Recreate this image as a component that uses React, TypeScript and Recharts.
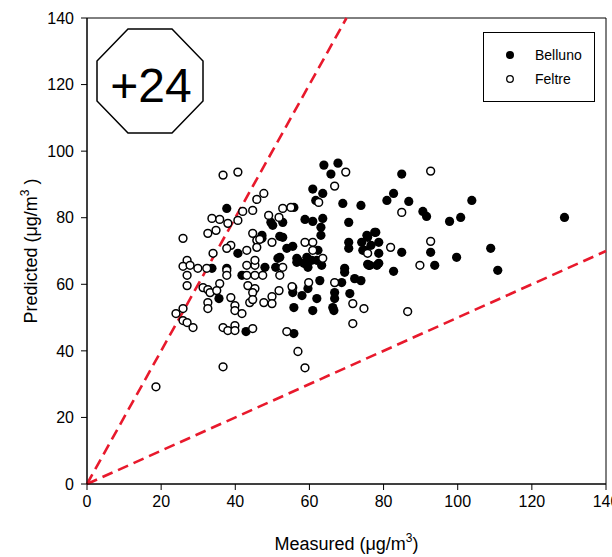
import React from "react";
import {
  ScatterChart,
  Scatter,
  XAxis,
  YAxis,
  ReferenceLine,
  ReferenceArea,
  Label,
} from "recharts";

// ---- data (µg/m3) ----
const belluno: [number, number][] = [
  [63.9, 95.8], [67.7, 96.4], [65.8, 93.1], [60.9, 88.6], [63.6, 87.3], [61.7, 85.2], [69, 84.3], [73.9, 83.7],
  [58.8, 79.5], [60.9, 78.9], [63.6, 79.8], [70.6, 78.6], [63.1, 77.1], [63.1, 74.7], [50.1, 77.7], [52.8, 78.6],
  [52, 74.4], [52.8, 74.1], [47.2, 74.7], [55.5, 71.4], [53.9, 70.8], [52, 68.1], [70.6, 72.6], [70.6, 70.8],
  [74.1, 72.6], [75.7, 74.1], [77.9, 75.6], [74.9, 70.2], [56.9, 67.2], [59.3, 68.1], [60.6, 67.2], [48, 65.1],
  [50.9, 65.1], [69.5, 64.8], [76, 65.7], [55.8, 83.1], [62.3, 70.2], [51.5, 67.8], [56.6, 67.8], [62, 67.2],
  [75.5, 74.7], [74.4, 70.2], [56.6, 66.6], [59.6, 65.1], [63.3, 65.7], [69.5, 63.6], [72.2, 61.7], [73.9, 61.1],
  [75.7, 66], [62.8, 61.1], [68.7, 60.5], [66.8, 57.5], [66.8, 55.7], [66.3, 53], [66.6, 52.1], [70.9, 57.2],
  [55.5, 57.5], [58, 56.6], [59.6, 58.7], [62, 55.7], [55.8, 53], [60.9, 52.1], [55.8, 45.2], [78.2, 65.7],
  [58.5, 66.3], [37.7, 82.8], [33.7, 64.8], [37.7, 64.8], [40.7, 69.3], [41.8, 62.7], [35.6, 55.7], [42.9, 45.8],
  [84.9, 93.1], [82.7, 87.3], [80.9, 85.2], [86.8, 84.9], [90.6, 81.9], [91.6, 80.4], [103.8, 85.2], [97.8, 78.9],
  [100.8, 80.1], [128.8, 80.1], [77.6, 75.6], [78.7, 72.6], [76.6, 71.7], [78.7, 69.3], [78.7, 66.3], [76.3, 65.7],
  [84.9, 69.6], [82.7, 63.9], [92.7, 69.6], [93.8, 65.7], [99.7, 68.1], [108.9, 70.8], [110.8, 64.2], [49.6, 78.6],
  [47.2, 73.8],
];

const feltre: [number, number][] = [
  [36.7, 92.8], [40.7, 93.7], [25.9, 73.8], [33.7, 79.8], [35.8, 79.5], [38, 78.3], [40.7, 79.2], [42, 81.9],
  [44.7, 82.2], [45.8, 85.5], [32.6, 75.3], [34.8, 76.2], [38.8, 71.7], [37.7, 70.8], [34, 69.3], [43.1, 70.2],
  [44.7, 75.3], [45.8, 73.2], [27, 67.2], [25.9, 65.4], [27.8, 65.7], [29.9, 64.8], [32.3, 64.8], [27, 62.7],
  [27, 59.6], [31.3, 59], [32.6, 58.4], [35.8, 60.2], [37.7, 64.2], [37.7, 62.7], [43.1, 65.7], [45.3, 65.7],
  [43.1, 62.7], [45.3, 62.7], [43.4, 59.6], [45.3, 58.7], [43.9, 54.5], [33.2, 57.5], [35, 58.1], [32.6, 54.5],
  [32.6, 52.7], [24, 51.2], [25.9, 52.7], [25.9, 49.1], [27, 48.5], [28.6, 47], [38.8, 56], [39.9, 53.6],
  [39.9, 52.1], [41.8, 51.2], [36.7, 47], [38, 46.1], [39.9, 47.6], [39.9, 46.1], [44.7, 46.7], [36.7, 35.2],
  [18.6, 29.2], [69.8, 93.7], [66.8, 89.5], [47.7, 87.3], [62.5, 84.6], [52.8, 82.8], [55, 83.1], [51.8, 80.1],
  [49.9, 72.6], [58.8, 72.6], [60.9, 72.6], [60.9, 70.2], [46.6, 73.5], [45.8, 71.1], [45.3, 67.2], [52.8, 65.1],
  [63.6, 67.8], [75.7, 69.3], [47.4, 62.7], [52, 62.7], [51.8, 58.1], [49.9, 56.3], [49.9, 54.2], [47.7, 54.5],
  [44.7, 57.5], [44.7, 55.4], [55.5, 59], [59.8, 60.5], [66.8, 60.5], [71.7, 54.2], [74.7, 52.7], [71.7, 48.2],
  [53.9, 45.8], [56.9, 39.8], [58.8, 34.9], [92.7, 94], [84.9, 81.6], [92.7, 72.9], [81.9, 71.1], [89.8, 65.7],
  [86.5, 51.8], [49, 80.7], [55.3, 59.3],
];

const ticks = [0, 20, 40, 60, 80, 100, 120, 140];
const upperLine = [{ x: 0, y: 0 }, { x: 70, y: 140 }];
const lowerLine = [{ x: 0, y: 0 }, { x: 140, y: 70 }];
const seriesNames = ["Belluno", "Feltre"];
const badgeText = "+24";

const bellunoData = belluno.map(([x, y]) => ({ x, y }));
const feltreData = feltre.map(([x, y]) => ({ x, y }));

const NARROW = "'Liberation Sans Narrow', 'Arial Narrow', 'Liberation Sans', Arial, sans-serif";
const SANS = "'Liberation Sans', Arial, sans-serif";
const RED = "#e8192c";

const FilledDot = (p: any) => <circle cx={p.cx} cy={p.cy} r={4.6} fill="#000" />;
const OpenDot = (p: any) => (
  <circle cx={p.cx} cy={p.cy} r={3.9} fill="#fff" stroke="#000" strokeWidth={1.5} />
);

const XTitle = (props: any) => {
  const vb = props.viewBox || {};
  const cx = vb.x + vb.width / 2;
  const y = vb.y + 66;
  return (
    <text x={cx} y={y} textAnchor="middle" fontFamily={NARROW} fontSize={18} fill="#000">
      Measured (μg/m<tspan dy={-8} fontSize={12}>3</tspan><tspan dy={8}>)</tspan>
    </text>
  );
};

const YTitle = (props: any) => {
  const vb = props.viewBox || {};
  const cy = vb.y + vb.height / 2;
  const x = 37;
  return (
    <text
      x={x}
      y={cy}
      textAnchor="middle"
      transform={`rotate(-90, ${x}, ${cy})`}
      fontFamily={NARROW}
      fontSize={18}
      fill="#000"
    >
      Predicted (μg/m<tspan dy={-8} fontSize={12}>3</tspan><tspan dy={8}> )</tspan>
    </text>
  );
};

export default function App() {
  return (
    <div style={{ position: "absolute", left: 0, top: 0, width: 612, height: 557, background: "#fff" }}>
      <ScatterChart
        width={612}
        height={557}
        margin={{ top: 18, right: 6, bottom: 0, left: 0 }}
      >
        <XAxis
          type="number"
          dataKey="x"
          domain={[0, 140]}
          ticks={ticks}
          interval={0}
          allowDataOverflow
          height={73}
          tickSize={6}
          tickMargin={6}
          stroke="#000"
          tick={{ fill: "#000", fontSize: 16, fontFamily: NARROW }}
        >
          <Label content={<XTitle />} />
        </XAxis>
        <YAxis
          type="number"
          dataKey="y"
          domain={[0, 140]}
          ticks={ticks}
          interval={0}
          allowDataOverflow
          width={87}
          tickSize={6}
          tickMargin={7}
          stroke="#000"
          tick={{ fill: "#000", fontSize: 16, fontFamily: NARROW }}
        >
          <Label content={<YTitle />} />
        </YAxis>
        <ReferenceArea x1={0} x2={140} y1={0} y2={140} fill="none" stroke="#000" strokeWidth={1} />
        <Scatter
          name={seriesNames[0]}
          data={bellunoData}
          shape={FilledDot}
          isAnimationActive={false}
        />
        <Scatter
          name={seriesNames[1]}
          data={feltreData}
          shape={OpenDot}
          isAnimationActive={false}
        />
        <ReferenceLine
          segment={upperLine}
          stroke={RED}
          strokeWidth={2.6}
          strokeDasharray="11 6"
        />
        <ReferenceLine
          segment={lowerLine}
          stroke={RED}
          strokeWidth={2.6}
          strokeDasharray="11 6"
        />
      </ScatterChart>
      <svg
        width={612}
        height={557}
        style={{ position: "absolute", left: 0, top: 0, pointerEvents: "none" }}
      >
        <polygon
          points="128,29 172,29 203,61 203,101 172,133 128,133 97,101 97,61"
          fill="#fff"
          stroke="#000"
          strokeWidth={1.5}
        />
        <text x={151} y={102} textAnchor="middle" fontFamily={SANS} fontSize={48} fill="#000">
          {badgeText}
        </text>
        <rect x={483.5} y={32.5} width={111} height={69} fill="#fff" stroke="#000" strokeWidth={1} />
        <circle cx={510} cy={55} r={4} fill="#000" />
        <circle cx={510} cy={79} r={3.3} fill="#fff" stroke="#000" strokeWidth={1.3} />
        <text x={535} y={60} fontFamily={SANS} fontSize={14} fill="#000">
          {seriesNames[0]}
        </text>
        <text x={535} y={84} fontFamily={SANS} fontSize={14} fill="#000">
          {seriesNames[1]}
        </text>
      </svg>
    </div>
  );
}
